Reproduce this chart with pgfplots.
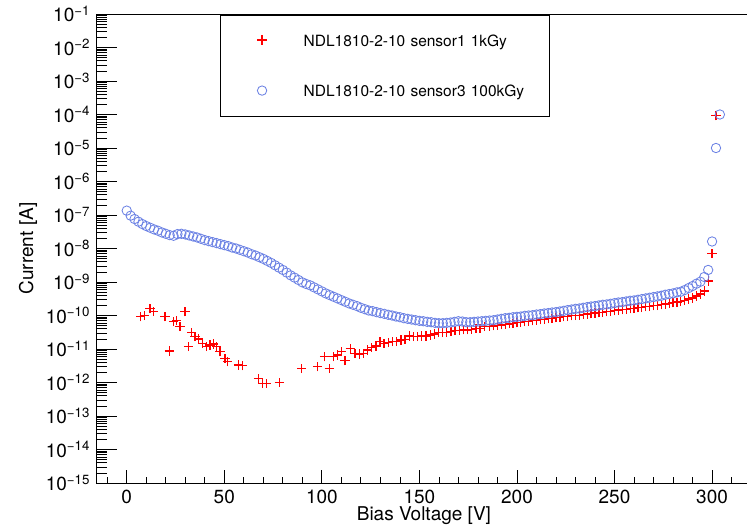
\documentclass[border=0pt]{standalone}
\usepackage{fontspec}
\setmainfont{TeX Gyre Heros}
\usepackage{pgfplots}
\pgfplotsset{compat=1.18}
\definecolor{rootred}{RGB}{255,0,0}
\definecolor{rootblue}{RGB}{108,130,228}
\pgfdeclareplotmark{redplus}{%
  \pgfsetstrokecolor{rootred}%
  \pgfpathmoveto{\pgfqpoint{-\pgfplotmarksize}{0pt}}%
  \pgfpathlineto{\pgfqpoint{\pgfplotmarksize}{0pt}}%
  \pgfpathmoveto{\pgfqpoint{0pt}{-\pgfplotmarksize}}%
  \pgfpathlineto{\pgfqpoint{0pt}{\pgfplotmarksize}}%
  \pgfusepathqstroke}
\newcommand\logtick[1]{\pgfmathtruncatemacro\myexp{abs(round(#1))}10\textsuperscript{−\myexp}}
\def\myminor{}
\foreach \e in {-15,...,-2}{\foreach \m in {2,...,9}{\xdef\myminor{\myminor\ifx\myminor\empty\else,\fi\m e\e}}}
\begin{document}
\begin{tikzpicture}
\useasboundingbox (-96.7pt,-43pt) rectangle (650.3pt,483pt);
% axis with y ticks only
\begin{axis}[
  scale only axis, width=654.4pt, height=469pt,
  at={(0,0)}, anchor=south west,
  xmin=-15.4, xmax=320, ymode=log, log basis y=10,
  ymin=1e-15, ymax=1e-1,
  tick align=inside, tick pos=left,
  axis line style={line width=0.9pt},
  tick style={black, line width=0.8pt},
  xtick=\empty,
  ytick={1e-15,1e-14,1e-13,1e-12,1e-11,1e-10,1e-9,1e-8,1e-7,1e-6,1e-5,1e-4,1e-3,1e-2,1e-1},
  minor ytick/.expand once=\myminor,
  major tick length=20pt, minor tick length=10pt,
  yticklabel={\logtick{\tick}},
  yticklabel style={font=\fontsize{19}{22}\selectfont, anchor=east, inner sep=0pt, xshift=-6.5pt},
  ylabel={Current [A]},
  every axis y label/.style={at={(axis description cs:0,0.5)}, xshift=-68.7pt, rotate=90, anchor=center, font=\fontsize{19}{22}\selectfont},
]
\end{axis}
% axis with data and x ticks
\begin{axis}[
  scale only axis, width=654.4pt, height=469pt,
  at={(0,0)}, anchor=south west,
  xmin=-15.4, xmax=320, ymode=log, log basis y=10,
  ymin=1e-15, ymax=1e-1,
  tick align=inside, tick pos=left,
  axis line style={line width=0.9pt},
  tick style={black, line width=0.8pt},
  ytick=\empty,
  xtick={0,50,100,150,200,250,300},
  minor xtick={-10,0,10,20,30,40,50,60,70,80,90,100,110,120,130,140,150,160,170,180,190,200,210,220,230,240,250,260,270,280,290,300,310},
  major tick length=13pt, minor tick length=6pt,
  /pgf/number format/assume math mode=true,
  xticklabel style={font=\fontsize{19}{22}\selectfont, inner sep=0pt, yshift=-6.5pt},
  xlabel={Bias Voltage [V]},
  every axis x label/.style={at={(axis description cs:0.5,0)}, yshift=-33pt, anchor=center, font=\fontsize{19}{22}\selectfont},
  legend style={draw=black, line width=0.9pt, inner sep=0pt, anchor=north west, at={(0.1884,0.9979)},
    cells={anchor=west}, row sep=0pt, column sep=0pt,
    nodes={inner sep=0pt, text depth=0pt, text width=246pt, minimum height=50.5pt, align=left},
    font=\fontsize{15.5}{18}\selectfont},
  legend image code/.code={\path (0pt,0pt) (82pt,0pt); \draw[#1] plot coordinates {(41pt,0.6pt)};},
]
\addplot[only marks, mark=redplus, mark size=4.6pt, draw=rootred, color=rootred, line width=1.25pt,
  mark options={draw=rootred, solid, line width=1.25pt}] coordinates {
(7.2,9.12e-11) (9.0,1.00e-10) (11.9,1.62e-10) (13.6,1.35e-10) (19.6,9.12e-11) (21.8,8.71e-12)
(23.9,6.61e-11) (25.6,6.92e-11) (27.3,4.68e-11) (29.9,1.29e-10) (31.6,1.18e-11) (33.3,3.16e-11)
(35.0,2.34e-11) (36.7,2.00e-11) (38.9,1.48e-11) (41.0,1.18e-11) (42.7,1.32e-11) (44.4,1.41e-11)
(46.1,1.18e-11) (47.8,8.32e-12) (50.4,5.25e-12) (51.6,4.17e-12) (57.2,3.31e-12) (59.5,3.16e-12)
(67.5,1.35e-12) (69.7,9.55e-13) (71.8,9.55e-13) (78.2,1.02e-12) (89.7,2.63e-12) (97.7,2.95e-12)
(101.3,5.89e-12) (103.8,2.63e-12) (105.9,5.89e-12) (108.1,6.61e-12) (110.2,8.32e-12) (111.9,4.47e-12)
(114.5,1.05e-11) (117.0,7.41e-12) (119.2,7.08e-12) (121.3,7.41e-12) (123.5,9.33e-12) (125.6,1.12e-11)
(127.8,1.23e-11) (129.8,1.66e-11) (131.9,1.48e-11) (134.1,1.55e-11) (136.3,1.66e-11) (138.4,1.66e-11)
(140.6,1.86e-11) (142.6,1.95e-11) (144.8,2.45e-11) (146.9,2.34e-11) (149.1,2.34e-11) (151.2,2.45e-11)
(153.4,2.45e-11) (155.5,2.63e-11) (157.7,2.82e-11) (159.7,3.09e-11) (162.0,3.09e-11) (164.0,3.09e-11)
(166.2,3.31e-11) (168.3,3.55e-11) (170.5,3.55e-11) (172.5,3.72e-11) (174.8,3.72e-11) (176.8,3.89e-11)
(179.0,4.17e-11) (181.1,4.17e-11) (183.3,4.68e-11)
(186,4.79e-11) (188,4.90e-11) (190,5.13e-11) (192,5.25e-11) (194,5.50e-11) (196,5.62e-11)
(198,5.89e-11) (200,6.03e-11) (202,6.31e-11) (204,6.46e-11) (206,6.76e-11) (208,6.92e-11)
(210,7.24e-11) (212,7.41e-11) (214,7.76e-11) (216,7.94e-11) (218,8.32e-11) (220,8.51e-11)
(222,8.71e-11) (224,9.12e-11) (226,9.33e-11) (228,9.77e-11) (230,1.00e-10) (232,1.02e-10)
(234,1.07e-10) (236,1.10e-10) (238,1.12e-10) (240,1.18e-10) (242,1.20e-10) (244,1.26e-10)
(246,1.29e-10) (248,1.35e-10) (250,1.38e-10) (252,1.45e-10) (254,1.48e-10) (256,1.51e-10)
(258,1.58e-10) (260,1.62e-10) (262,1.70e-10) (264,1.74e-10) (266,1.82e-10) (268,1.86e-10)
(270,1.95e-10) (272,2.00e-10) (274,2.09e-10) (276,2.19e-10) (278,2.29e-10) (280,2.40e-10)
(282,2.51e-10) (284,2.63e-10) (286,2.82e-10) (288,3.09e-10) (290,3.31e-10) (292,3.80e-10)
(294,4.37e-10) (296,5.37e-10) (298,1.07e-9) (300,7.24e-9) (302,9.12e-5)
};
\addlegendentry{NDL1810-2-10 sensor1 1kGy}
\addplot[only marks, mark=o, mark size=4.7pt, draw=rootblue, color=rootblue, line width=0.85pt,
  mark options={draw=rootblue, solid, line width=0.85pt}] coordinates {
(0,1.35e-7) (2,9.55e-8) (4,7.59e-8) (6,6.31e-8) (8,5.37e-8) (10,4.68e-8) (12,4.17e-8) (14,3.72e-8)
(16,3.39e-8) (18,3.02e-8) (20,2.75e-8) (22,2.51e-8) (24,2.40e-8) (26,2.69e-8) (28,2.75e-8) (30,2.63e-8)
(32,2.45e-8) (34,2.29e-8) (36,2.14e-8) (38,1.95e-8) (40,1.78e-8) (42,1.66e-8) (44,1.55e-8) (46,1.45e-8)
(48,1.35e-8) (50,1.26e-8) (52,1.18e-8) (54,1.07e-8) (56,1.00e-8) (58,9.12e-9) (60,8.32e-9) (62,7.59e-9)
(64,6.76e-9) (66,6.17e-9) (68,5.50e-9) (70,4.90e-9) (72,4.27e-9) (74,3.72e-9) (76,3.16e-9) (78,2.69e-9)
(80,2.29e-9) (82,1.91e-9) (84,1.58e-9) (86,1.35e-9) (88,1.15e-9) (90,9.77e-10) (92,8.71e-10) (94,7.94e-10)
(96,6.92e-10) (98,6.03e-10) (100,5.25e-10) (102,4.57e-10) (104,4.07e-10) (106,3.63e-10) (108,3.24e-10) (110,2.88e-10)
(112,2.57e-10) (114,2.29e-10) (116,2.09e-10) (118,1.91e-10) (120,1.70e-10) (122,1.55e-10) (124,1.41e-10) (126,1.35e-10)
(128,1.26e-10) (130,1.18e-10) (132,1.12e-10) (134,1.05e-10) (136,1.00e-10) (138,9.33e-11) (140,8.91e-11) (142,8.32e-11)
(144,7.94e-11) (146,7.59e-11) (148,7.24e-11) (150,6.92e-11) (152,6.76e-11) (154,6.46e-11) (156,6.31e-11) (158,6.03e-11)
(160,5.89e-11) (162,5.89e-11) (164,6.03e-11) (166,6.17e-11) (168,6.46e-11) (170,6.76e-11) (172,6.61e-11) (174,6.31e-11)
(176,6.31e-11) (178,6.46e-11) (180,6.61e-11) (182,6.76e-11) (184,6.92e-11) (186,7.08e-11) (188,7.24e-11) (190,7.59e-11)
(192,7.94e-11) (194,8.32e-11) (196,8.51e-11) (198,8.91e-11) (200,9.12e-11) (202,9.33e-11) (204,9.77e-11) (206,1.00e-10)
(208,1.02e-10) (210,1.07e-10) (212,1.10e-10) (214,1.15e-10) (216,1.18e-10) (218,1.23e-10) (220,1.26e-10) (222,1.32e-10)
(224,1.38e-10) (226,1.45e-10) (228,1.51e-10) (230,1.58e-10) (232,1.62e-10) (234,1.70e-10) (236,1.78e-10) (238,1.86e-10)
(240,1.91e-10) (242,2.00e-10) (244,2.09e-10) (246,2.14e-10) (248,2.24e-10) (250,2.34e-10) (252,2.45e-10) (254,2.51e-10)
(256,2.63e-10) (258,2.75e-10) (260,2.82e-10) (262,2.95e-10) (264,3.09e-10) (266,3.24e-10) (268,3.39e-10) (270,3.55e-10)
(272,3.72e-10) (274,3.89e-10) (276,4.17e-10) (278,4.37e-10) (280,4.57e-10) (282,4.90e-10) (284,5.13e-10) (286,5.75e-10)
(288,6.61e-10) (290,7.59e-10) (292,8.91e-10) (294,1.02e-9) (296,1.41e-9) (298,2.29e-9) (300,1.62e-8) (302,1.00e-5)
(304,1.00e-4)
};
\addlegendentry{NDL1810-2-10 sensor3 100kGy}
\end{axis}
\end{tikzpicture}
\end{document}
